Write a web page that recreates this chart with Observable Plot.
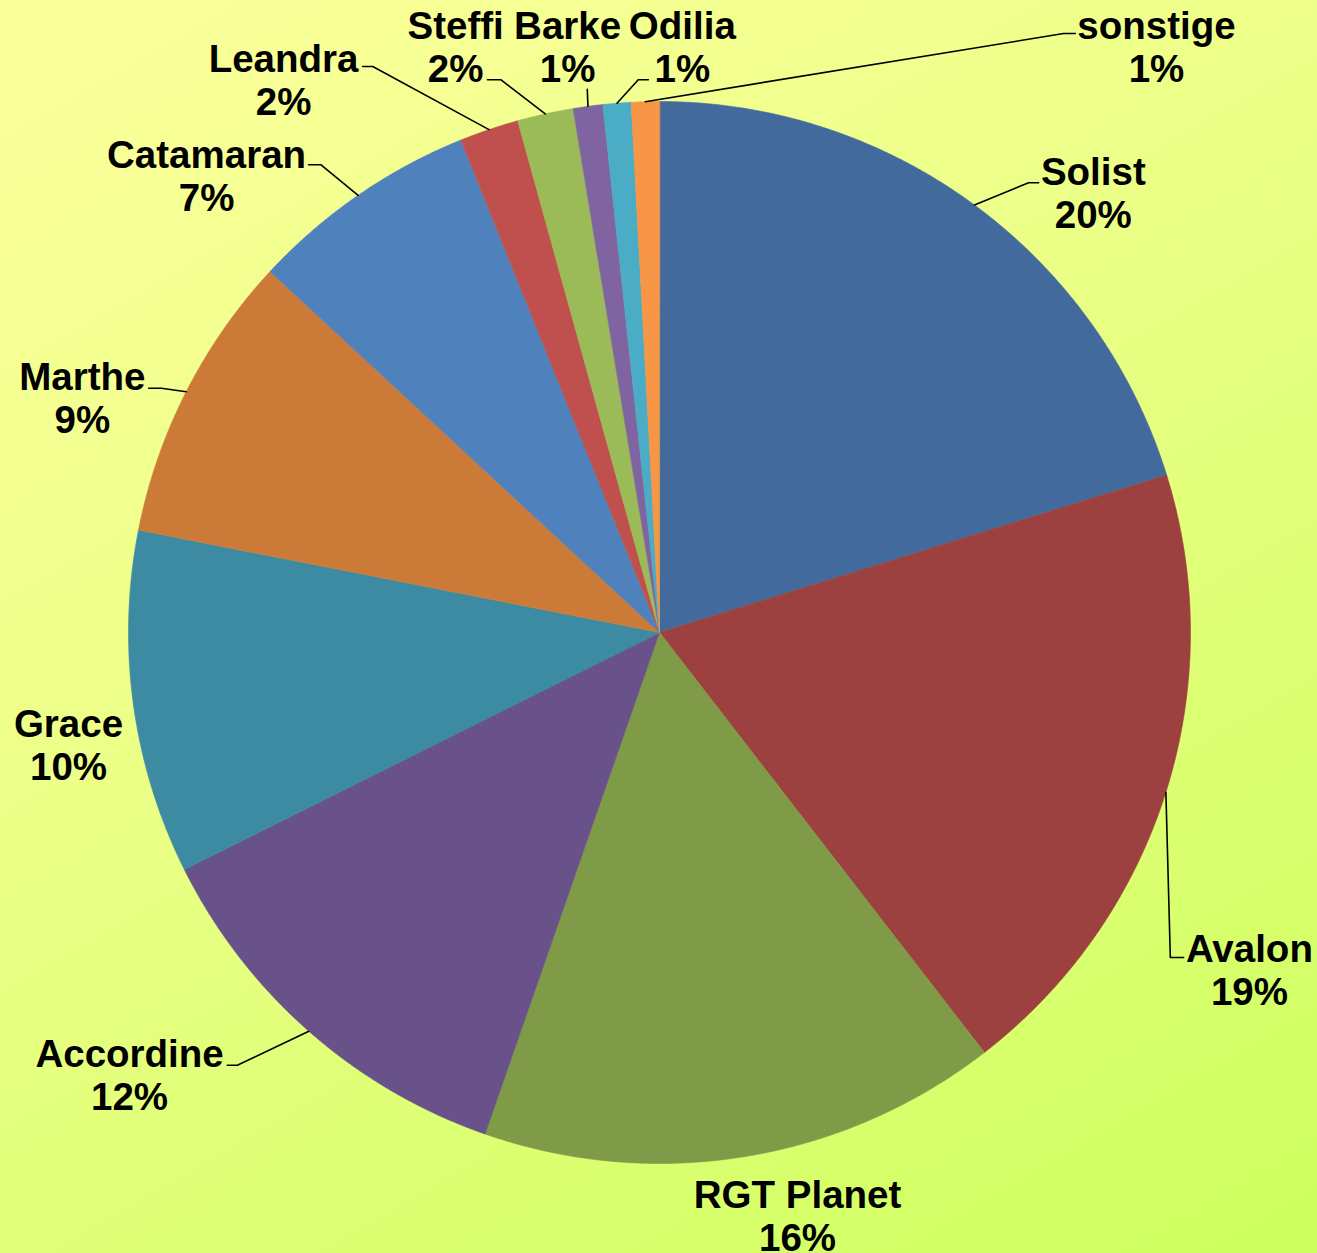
<!DOCTYPE html>
<html>
<head>
<meta charset="utf-8">
<script src="https://cdn.jsdelivr.net/npm/d3@7"></script>
<script src="https://cdn.jsdelivr.net/npm/@observablehq/plot@0.6"></script>
<style>
  html, body { margin: 0; padding: 0; }
  body { width: 1317px; height: 1253px; overflow: hidden; }
</style>
</head>
<body>
<div id="chart"></div>
<script>
// ---- data ----
const names  = ["Solist", "Avalon", "RGT Planet", "Accordine", "Grace", "Marthe", "Catamaran", "Leandra", "Steffi", "Barke", "Odilia", "sonstige"];
const values = [20.2, 19.3, 15.8, 12.3, 10.45, 8.8, 7.0, 1.8, 1.7, 0.9, 0.85, 0.85];
const colors = ["#426a9c", "#9d4140", "#7f9b48", "#69528a", "#3c8ba3", "#cc7a38", "#4f81bd", "#c0504d", "#9bbb59", "#8064a2", "#4bacc6", "#f79646"];

// ---- label layout (in units of pie radius, relative to pie centre) ----
const labelPos  = [[0.817, 0.829], [1.111, -0.635], [0.260, -1.098], [-0.998, -0.832], [-1.113, -0.211], [-1.087, 0.443],
                   [-0.853, 0.861], [-0.708, 1.041], [-0.384, 1.104], [-0.173, 1.104], [0.043, 1.104], [0.936, 1.104]];
const leaderElbow = [[0.695, 0.847], [0.962, -0.612], null, [-0.795, -0.815], null, [-0.938, 0.460],
                     [-0.638, 0.881], [-0.540, 1.066], [-0.299, 1.041], [-0.136, 1.023], [-0.040, 1.041], [0.761, 1.128]];
const leaderEnd   = [[0.714, 0.847], [0.987, -0.612], null, [-0.814, -0.815], null, [-0.962, 0.460],
                     [-0.661, 0.881], [-0.559, 1.066], [-0.324, 1.041], [-0.136, 1.023], [-0.021, 1.041], [0.783, 1.128]];

// ---- geometry ----
const W = 1317, H = 1253, CX = 659, CY = 632, R = 531;
const total = d3.sum(values);
let acc = 0;
const slices = names.map((name, i) => {
  const a0 = acc / total * 2 * Math.PI;
  acc += values[i];
  const a1 = acc / total * 2 * Math.PI;
  return {name, a0, a1, mid: (a0 + a1) / 2, pct: Math.round(values[i] / total * 100), i};
});

const wedgePts = [];
for (const s of slices) {
  wedgePts.push({name: s.name, x: 0, y: 0});
  const n = Math.max(2, Math.ceil((s.a1 - s.a0) / (0.2 * Math.PI / 180)));
  for (let k = 0; k <= n; k++) {
    const a = s.a0 + (s.a1 - s.a0) * k / n;
    wedgePts.push({name: s.name, x: Math.sin(a), y: Math.cos(a)});
  }
}

const leaderPts = [];
for (const s of slices) {
  if (!leaderElbow[s.i]) continue;
  leaderPts.push({name: s.name, x: Math.sin(s.mid), y: Math.cos(s.mid)});
  leaderPts.push({name: s.name, x: leaderElbow[s.i][0], y: leaderElbow[s.i][1]});
  leaderPts.push({name: s.name, x: leaderEnd[s.i][0], y: leaderEnd[s.i][1]});
}

const labels = slices.map(s => ({x: labelPos[s.i][0], y: labelPos[s.i][1], text: `${s.name}\n${s.pct}%`}));

const chart = Plot.plot({
  width: W,
  height: H,
  margin: 0,
  x: {domain: [-CX / R, (W - CX) / R], axis: null},
  y: {domain: [(CY - H) / R, CY / R], axis: null},
  color: {domain: names, range: colors},
  style: {
    background: "linear-gradient(150deg, #fcff9c 0%, #eaff85 45%, #cdff5e 100%)",
    fontFamily: "'Liberation Sans', Arial, Helvetica, sans-serif"
  },
  marks: [
    Plot.line(wedgePts, {x: "x", y: "y", z: "name", fill: "name", stroke: "name", strokeWidth: 0.6, curve: "linear-closed"}),
    Plot.line(leaderPts, {x: "x", y: "y", z: "name", stroke: "black", strokeWidth: 1.6}),
    Plot.text(labels, {x: "x", y: "y", text: "text", fontSize: 38.5, fontWeight: "bold", lineAnchor: "middle", lineHeight: 1.12, fill: "black"})
  ]
});
document.getElementById("chart").append(chart);
</script>
</body>
</html>
